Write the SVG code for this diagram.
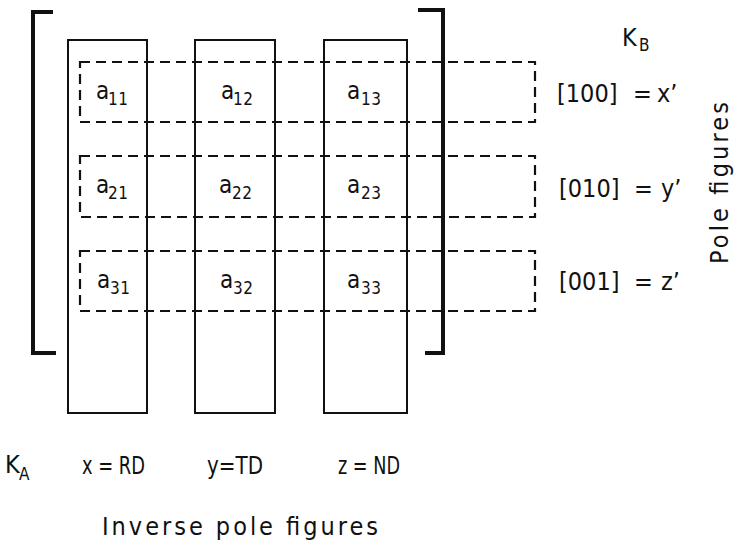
<svg xmlns="http://www.w3.org/2000/svg" width="741" height="543" viewBox="0 0 741 543">
<style>
.bg{fill:#ffffff}
.col{fill:none;stroke:#111;stroke-width:2}
.row{fill:none;stroke:#111;stroke-width:2.2;stroke-dasharray:10 6}
.br{fill:none;stroke:#111;stroke-width:4;stroke-linecap:butt;stroke-linejoin:miter}
text{font-family:"DejaVu Sans Condensed","DejaVu Sans",sans-serif;font-stretch:condensed;fill:#111}
.lab{font-size:25px}
.el{font-size:24px}
.sub{font-size:17px;letter-spacing:0.5px}
</style>
<rect class="bg" x="0" y="0" width="741" height="543"/>
<g id="bracket-left"><path class="br" d="M53 12 H33 V353 H56"/></g>
<g id="bracket-right"><path class="br" d="M418 10 H443 V353 H425"/></g>
<g id="col-x"><rect class="col" x="68" y="40" width="79" height="373"/></g>
<g id="col-y"><rect class="col" x="195" y="40" width="80" height="373"/></g>
<g id="col-z"><rect class="col" x="324" y="40" width="83" height="373"/></g>
<g id="row-1"><rect class="row" x="80" y="62" width="455" height="60"/></g>
<g id="row-2"><rect class="row" x="80" y="156" width="455" height="61"/></g>
<g id="row-3"><rect class="row" x="80" y="251" width="455" height="60"/></g>
<g id="elements">
<text class="el" x="96" y="99">a<tspan class="sub" x="108" y="105">11</tspan></text>
<text class="el" x="221" y="99">a<tspan class="sub" x="233" y="105">12</tspan></text>
<text class="el" x="347" y="99">a<tspan class="sub" x="361" y="105">13</tspan></text>
<text class="el" x="96" y="193">a<tspan class="sub" x="108" y="199">21</tspan></text>
<text class="el" x="219" y="193">a<tspan class="sub" x="232" y="199">22</tspan></text>
<text class="el" x="347" y="193">a<tspan class="sub" x="361" y="199">23</tspan></text>
<text class="el" x="97" y="288">a<tspan class="sub" x="110" y="294">31</tspan></text>
<text class="el" x="220" y="288">a<tspan class="sub" x="233" y="294">32</tspan></text>
<text class="el" x="347" y="288">a<tspan class="sub" x="361" y="294">33</tspan></text>
</g>
<g id="label-KB"><text class="lab" x="622" y="46">K<tspan class="sub" x="639" y="51">B</tspan></text></g>
<g id="label-row1"><text class="lab" y="102"><tspan x="557">[100]</tspan><tspan x="633">=</tspan><tspan x="657">x’</tspan></text></g>
<g id="label-row2"><text class="lab" y="197"><tspan x="559">[010]</tspan><tspan x="634">=</tspan><tspan x="661">y’</tspan></text></g>
<g id="label-row3"><text class="lab" y="290"><tspan x="559">[001]</tspan><tspan x="634">=</tspan><tspan x="661">z’</tspan></text></g>
<g id="label-pole"><text class="lab" transform="translate(728 264) rotate(-90)" textLength="162" lengthAdjust="spacing">Pole figures</text></g>
<g id="label-KA"><text class="lab" x="5" y="473">K<tspan class="sub" x="19" y="480">A</tspan></text></g>
<g id="label-x"><text class="lab" x="82" y="474" textLength="63" lengthAdjust="spacingAndGlyphs">x = RD</text></g>
<g id="label-y"><text class="lab" x="207" y="474" textLength="56" lengthAdjust="spacingAndGlyphs">y=TD</text></g>
<g id="label-z"><text class="lab" x="338" y="474" textLength="62" lengthAdjust="spacingAndGlyphs">z = ND</text></g>
<g id="label-inverse"><text class="lab" x="102" y="535" textLength="276" lengthAdjust="spacing">Inverse pole figures</text></g>
<g id="connectors"></g>
</svg>
